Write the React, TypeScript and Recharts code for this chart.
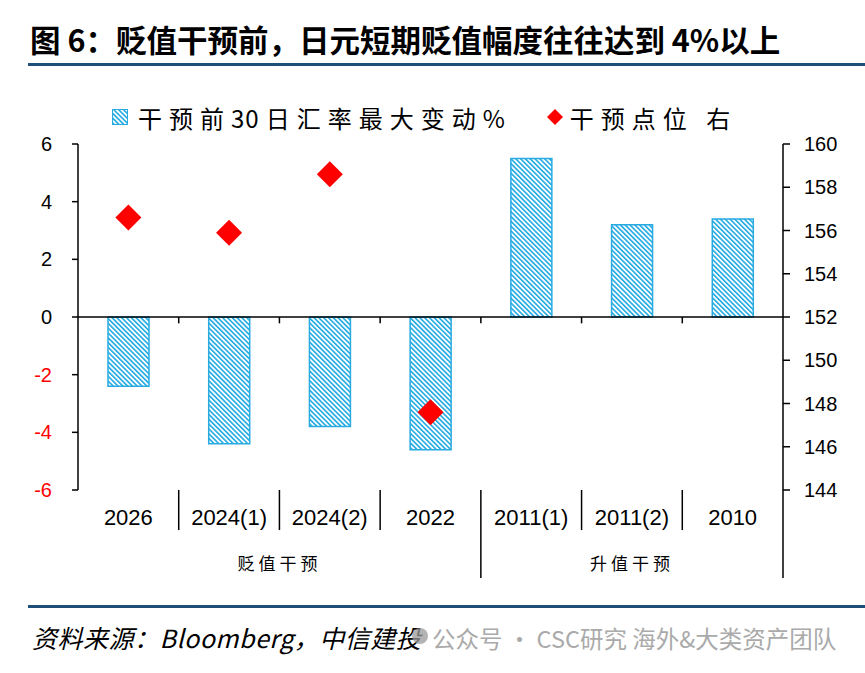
import React from 'react';
import { ComposedChart, Bar, Scatter, XAxis, YAxis, ReferenceLine } from 'recharts';

// 干预事件（按时间倒序）
const categories = ['2026', '2024(1)', '2024(2)', '2022', '2011(1)', '2011(2)', '2010'];
// 干预前30日汇率最大变动（%）
const maxMove = [-2.4, -4.4, -3.8, -4.6, 5.5, 3.2, 3.4];
// 干预点位（右轴），升值干预无点位
const interventionLevel = [156.6, 155.9, 158.6, 147.6, null, null, null];
// 分组：名称与所含类别数
const groupNames = ['贬值干预', '升值干预'];
const groupSizes = [4, 3];

const leftTicks = [-6, -4, -2, 0, 2, 4, 6];
const rightTicks = [144, 146, 148, 150, 152, 154, 156, 158, 160];

const data = categories.map((name, i) => ({
  name,
  move: maxMove[i],
  level: interventionLevel[i],
}));

const NAVY = '#1f4e79';
const CYAN = '#29abe2';
const RED = '#ff0000';
const NUM_FONT = '"Liberation Sans", Arial, sans-serif';
const CJK_FONT = '"Noto Sans CJK SC", "Noto Sans", sans-serif';

// 分组起点索引
const groupStarts = groupSizes.map((_, i) => groupSizes.slice(0, i).reduce((a, b) => a + b, 0));

const LeftTick = (props: any) => {
  const { x, y, payload } = props;
  return (
    <text x={x} y={y} dy={7} textAnchor="end" fontSize={20} fontFamily={NUM_FONT} fill={payload.value < 0 ? RED : '#000'}>
      {payload.value}
    </text>
  );
};

const RightTick = (props: any) => {
  const { x, y, payload } = props;
  return (
    <text x={x} y={y} dy={7} textAnchor="start" fontSize={20} fontFamily={NUM_FONT} fill="#000">
      {payload.value}
    </text>
  );
};

const CategoryTick = (props: any) => {
  const { x, y, payload } = props;
  return (
    <text x={x} y={y} dy={35} textAnchor="middle" fontSize={22} fontFamily={NUM_FONT} fill="#000">
      {payload.value}
    </text>
  );
};

const Diamond = (props: any) => {
  const { cx, cy, payload } = props;
  if (payload == null || payload.level == null || !Number.isFinite(cx) || !Number.isFinite(cy)) return null;
  const r = 13;
  return <polygon points={`${cx},${cy - r} ${cx + r},${cy} ${cx},${cy + r} ${cx - r},${cy}`} fill={RED} />;
};

export default function App() {
  const lineProps = { yAxisId: 'left', stroke: '#000', strokeWidth: 1.5, ifOverflow: 'visible' as const };

  return (
    <div style={{ position: 'absolute', left: 0, top: 0, width: 865, height: 673, background: '#fff', overflow: 'hidden' }}>
      <div style={{ position: 'absolute', left: 0, top: 0 }}>
        <ComposedChart width={865} height={673} data={data} margin={{ top: 144, right: 22, bottom: 153, left: 28 }}>
          <defs>
            <pattern id="hatch" width={3.4} height={3.4} patternUnits="userSpaceOnUse" patternTransform="rotate(-45)">
              <rect width={3.4} height={3.4} fill="#ffffff" />
              <rect width={1.6} height={3.4} fill="#22aae2" />
            </pattern>
          </defs>
          <XAxis dataKey="name" axisLine={false} tickLine={false} tickSize={0} tickMargin={0} height={30} tick={<CategoryTick />} interval={0} />
          <YAxis
            yAxisId="left"
            domain={[-6, 6]}
            ticks={leftTicks}
            width={50}
            tickSize={6}
            tickMargin={20}
            axisLine={{ stroke: '#000', strokeWidth: 1.5 }}
            tickLine={{ stroke: '#000', strokeWidth: 1.5 }}
            tick={<LeftTick />}
            allowDataOverflow
          />
          <YAxis
            yAxisId="right"
            orientation="right"
            domain={[144, 160]}
            ticks={rightTicks}
            width={60}
            tickSize={7}
            tickMargin={14}
            axisLine={{ stroke: '#000', strokeWidth: 1.5 }}
            tickLine={{ stroke: '#000', strokeWidth: 1.5 }}
            tick={<RightTick />}
            allowDataOverflow
          />
          <ReferenceLine y={0} {...lineProps} />
          {/* 零轴上的类别分隔刻度 */}
          {categories.slice(1).map((c) => (
            <ReferenceLine key={`zt-${c}`} segment={[{ x: c, y: 0 }, { x: c, y: -0.22 }]} position="start" {...lineProps} />
          ))}
          {/* 底部类别分隔线，分组边界处加长 */}
          {categories.slice(1).map((c, i) => {
            const long = groupStarts.includes(i + 1);
            return (
              <ReferenceLine
                key={`sep-${c}`}
                segment={[{ x: c, y: -6 }, { x: c, y: long ? -9.05 : -7.39 }]}
                position="start"
                {...lineProps}
              />
            );
          })}
          <ReferenceLine
            segment={[{ x: categories[categories.length - 1], y: -6 }, { x: categories[categories.length - 1], y: -9.05 }]}
            position="end"
            {...lineProps}
          />
          <Bar yAxisId="left" dataKey="move" barSize={41} fill="url(#hatch)" stroke={CYAN} strokeWidth={1.5} isAnimationActive={false} />
          <Scatter yAxisId="right" dataKey="level" shape={<Diamond />} isAnimationActive={false} />
        </ComposedChart>
      </div>

      {/* 标题 */}
      <div style={{ position: 'absolute', left: 30, top: 20, fontFamily: CJK_FONT, fontWeight: 700, fontSize: 30.5, lineHeight: '38px', color: '#000', whiteSpace: 'nowrap' }}>
        图 6：贬值干预前，日元短期贬值幅度往往达到 4%以上
      </div>
      <div style={{ position: 'absolute', left: 28, top: 63, width: 837, height: 3, background: NAVY }} />

      {/* 图例 */}
      <div style={{ position: 'absolute', left: 112, top: 102, height: 30, display: 'flex', alignItems: 'center', fontFamily: CJK_FONT, fontSize: 24, color: '#000', whiteSpace: 'nowrap', letterSpacing: 7 }}>
        <svg width={16} height={16} style={{ marginRight: 10 }}>
          <rect x={0.5} y={0.5} width={15} height={15} fill="url(#hatch)" stroke={CYAN} />
        </svg>
        <span>
          干预前<span style={{ letterSpacing: 1 }}>3</span>0日汇率最大变动%
        </span>
        <svg width={18} height={18} style={{ marginLeft: 34, marginRight: 6 }}>
          <polygon points="9,1 17,9 9,17 1,9" fill={RED} />
        </svg>
        <span>干预点位 右</span>
      </div>

      {/* 分组标签 */}
      {groupNames.map((g, i) => {
        const plotLeft = 78;
        const band = (783 - 78) / categories.length;
        const center = plotLeft + band * (groupStarts[i] + groupSizes[i] / 2);
        return (
          <div
            key={g}
            style={{ position: 'absolute', left: center - 60, width: 120, top: 550, textAlign: 'center', fontFamily: CJK_FONT, fontSize: 17, letterSpacing: 4, color: '#000' }}
          >
            {g}
          </div>
        );
      })}

      {/* 来源 */}
      <div style={{ position: 'absolute', left: 28, top: 605, width: 837, height: 3, background: NAVY }} />
      <div style={{ position: 'absolute', left: 32, top: 619, fontFamily: CJK_FONT, fontStyle: 'italic', fontSize: 25, letterSpacing: 0.5, color: '#000', whiteSpace: 'nowrap' }}>
        资料来源：Bloomberg，中信建投
      </div>
      <div style={{ position: 'absolute', left: 412, top: 628, width: 16, height: 16, borderRadius: 8, background: '#9a9a9a', opacity: 0.75 }} />
      <div style={{ position: 'absolute', left: 432, top: 621, fontFamily: CJK_FONT, fontSize: 23.5, color: '#aaaaaa', whiteSpace: 'nowrap' }}>
        公众号 · CSC研究 海外&amp;大类资产团队
      </div>
    </div>
  );
}
